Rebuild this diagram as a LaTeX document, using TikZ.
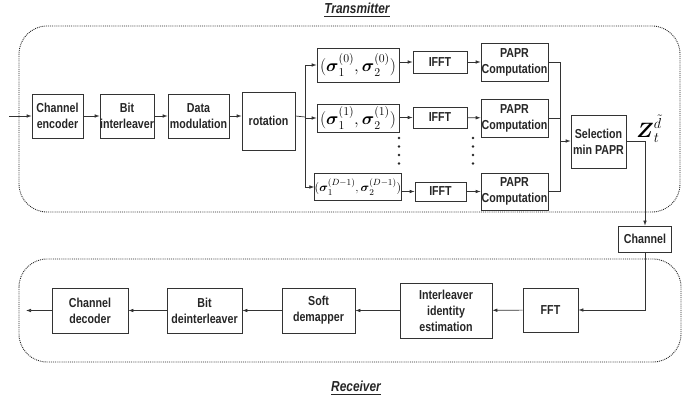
\documentclass[tikz,border=0pt]{standalone}
\usepackage{amsmath}
\usepackage{fontspec}
\newfontfamily\boxfont{Liberation Sans}[FakeStretch=0.82]
\usetikzlibrary{arrows.meta}

\begin{document}
\begin{tikzpicture}[x=1pt, y=-1pt,
    line/.style={draw=black!80, line width=0.7pt},
    conn/.style={line, -{Latex[length=5pt, width=3.6pt]}},
    blk/.style={draw=black!80, line width=0.7pt, fill=white, inner sep=0pt, align=center, text=black!85,
        font=\boxfont\bfseries\fontsize{13}{16}\selectfont},
    sig/.style={draw=black!80, line width=0.7pt, fill=white, inner sep=0pt, minimum width=82pt},
    frame/.style={draw=black!85, densely dotted, line width=0.9pt, rounded corners=28pt},
    title/.style={text=black!85, font=\boxfont\bfseries\itshape\fontsize{14.5}{16}\selectfont}]
    \useasboundingbox (0,0) rectangle (697,403);

    % transmitter
    \draw [frame] (19,26) rectangle (680,212);
    \node (tx-title) [title, at={(357,10)}] {\underline{Transmitter}};

    \node (enc) [blk, minimum width=51pt, minimum height=44pt, at={(57.5,116)}] {Channel\\encoder};
    \node (bint) [blk, minimum width=54pt, minimum height=44pt, at={(127,116)}] {Bit\\interleaver};
    \node (dmod) [blk, minimum width=61pt, minimum height=44pt, at={(198.5,116)}] {Data\\modulation};
    \node (rot) [blk, minimum width=53pt, minimum height=58pt, at={(268.5,121)}] {rotation};

    \node (s0) [sig, minimum height=34pt, at={(358,65)}] {\fontsize{16.5}{18}\selectfont$(\boldsymbol{\sigma}_1^{(0)},\boldsymbol{\sigma}_2^{(0)})$};
    \node (s1) [sig, minimum height=28pt, at={(358,118)}] {\fontsize{16.5}{18}\selectfont$(\boldsymbol{\sigma}_1^{(1)},\boldsymbol{\sigma}_2^{(1)})$};
    \node (s2) [sig, minimum height=27pt, at={(358,187)}] {\fontsize{12.5}{14}\selectfont$(\boldsymbol{\sigma}_1^{(D-1)},\boldsymbol{\sigma}_2^{(D-1)})$};

    \node (ifft0) [blk, minimum width=54pt, minimum height=22pt, at={(440,62)}] {IFFT};
    \node (ifft1) [blk, minimum width=54pt, minimum height=21pt, at={(440,117.5)}] {IFFT};
    \node (ifft2) [blk, minimum width=51pt, minimum height=19pt, at={(440.5,191.5)}] {IFFT};

    \node (papr0) [blk, minimum width=67pt, minimum height=38pt, at={(514.5,62)}] {PAPR\\Computation};
    \node (papr1) [blk, minimum width=67pt, minimum height=38pt, at={(514.5,118)}] {PAPR\\Computation};
    \node (papr2) [blk, minimum width=67pt, minimum height=37pt, at={(514.5,191.5)}] {PAPR\\Computation};

    \node (sel) [blk, minimum width=55pt, minimum height=53pt, at={(598.5,141.5)}] {Selection\\min PAPR};
    \node (zout) [at={(649,129)}, inner sep=0pt] {\fontsize{22}{24}\selectfont$\boldsymbol{Z}_t^{\tilde{d}}$};

    \coordinate (in) at (9,116);
    \coordinate (split) at (305,117);
    \coordinate (mrg) at (560,141);

    \draw [conn] (in) -- (enc);
    \draw [conn] (enc) -- (bint);
    \draw [conn] (bint) -- (dmod);
    \draw [conn] (dmod.east) -- (dmod.east -| rot.west);
    \draw [line] (dmod.east -| rot.east) -- (split);
    \draw [conn] (split) |- (s0.west);
    \draw [conn] (split) |- (s1.west);
    \draw [conn] (split) |- (s2.west);
    \draw [conn] (s0.east |- ifft0) -- (ifft0);
    \draw [conn] (s1.east |- ifft1) -- (ifft1);
    \draw [conn] (s2.east |- ifft2) -- (ifft2);
    \draw [conn] (ifft0) -- (papr0);
    \draw [conn] (ifft1) -- (papr1);
    \draw [conn] (ifft2) -- (papr2);
    \draw [line] (papr0.east) -| (mrg);
    \draw [line] (papr1.east) -| (mrg);
    \draw [line] (papr2.east) -| (mrg);
    \draw [conn] (mrg) -- (mrg -| sel.west);
    \foreach \y in {138,146.5,155,163.5} {
        \fill [black!85] (399,\y) circle (1.3);
        \fill [black!85] (473,\y) circle (1.3);
    }

    % channel
    \node (chan) [blk, minimum width=53pt, minimum height=26pt, at={(645,239)}] {Channel};
    \draw [conn] (sel.east) -| (chan.north);

    % receiver
    \draw [frame] (19,259) rectangle (681,362);
    \node (rx-title) [title, at={(356,388)}] {\underline{Receiver}};

    \node (fft) [blk, minimum width=55pt, minimum height=44pt, at={(550.5,310)}] {FFT};
    \node (iie) [blk, minimum width=92pt, minimum height=55pt, at={(446,310.5)}] {Interleaver\\identity\\estimation};
    \node (sdm) [blk, minimum width=73pt, minimum height=45pt, at={(318.5,310.5)}] {Soft\\demapper};
    \node (bdi) [blk, minimum width=75pt, minimum height=45pt, at={(204.5,310.5)}] {Bit\\deinterleaver};
    \node (dec) [blk, minimum width=76pt, minimum height=45pt, at={(90,310.5)}] {Channel\\decoder};
    \coordinate (out) at (26,310.5);

    \draw [conn] (chan.south) |- (fft.east);
    \draw [conn] (fft) -- (iie);
    \draw [conn] (iie) -- (sdm);
    \draw [conn] (sdm) -- (bdi);
    \draw [conn] (bdi) -- (dec);
    \draw [conn] (dec) -- (out);
\end{tikzpicture}
\end{document}
